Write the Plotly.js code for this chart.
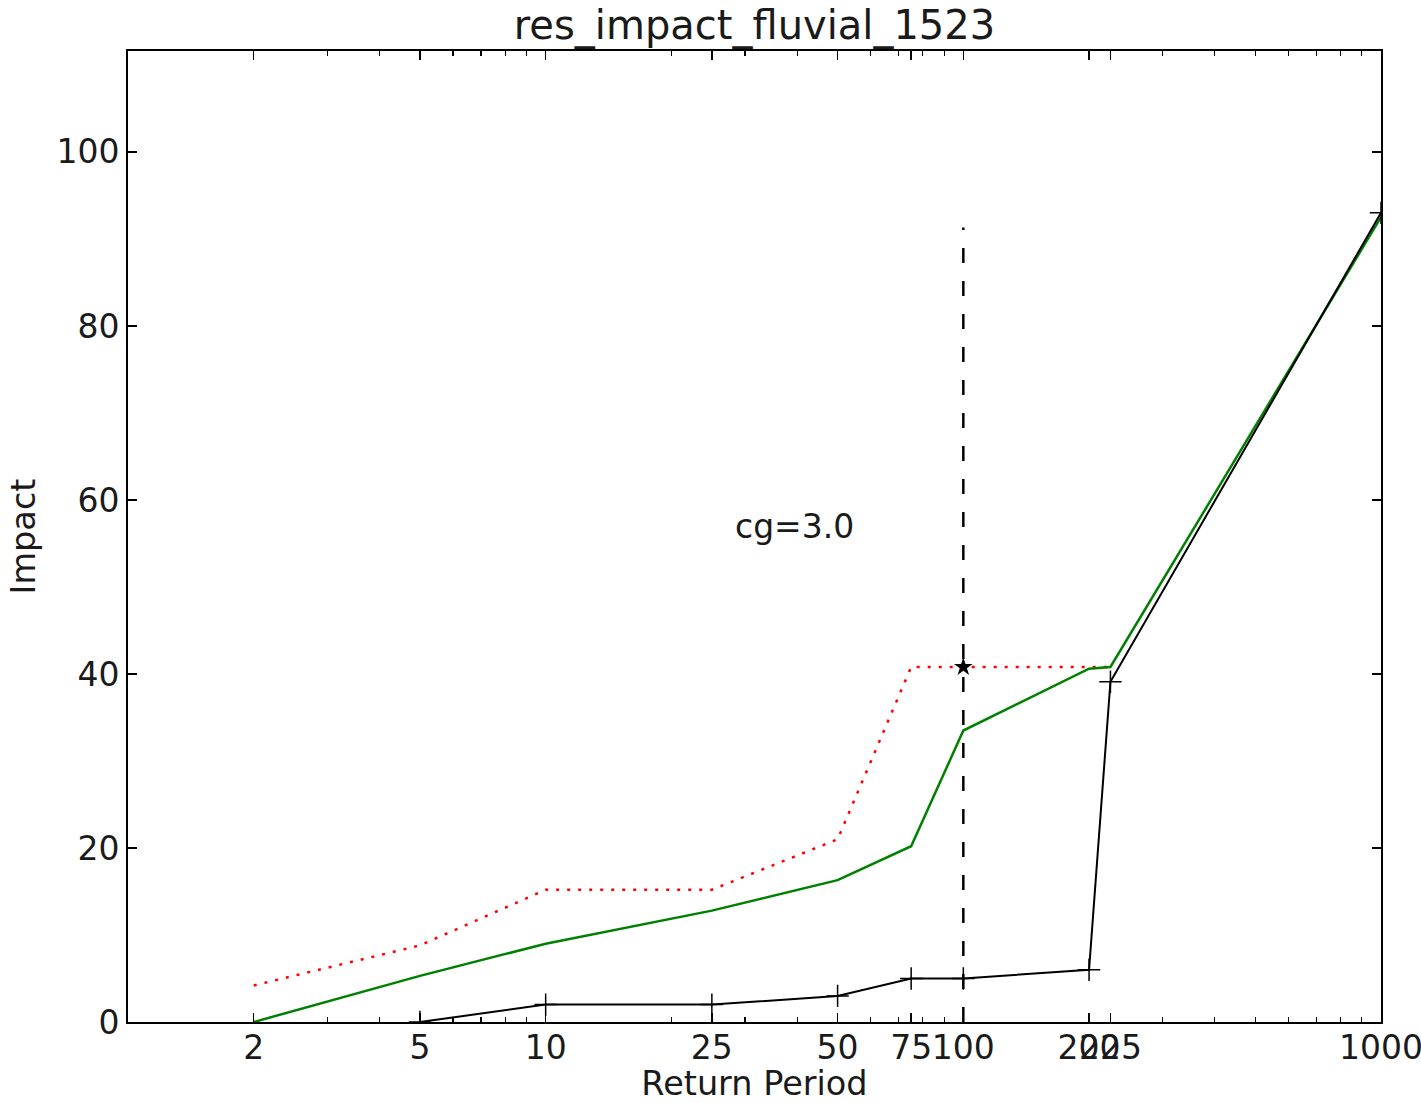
<!DOCTYPE html>
<html>
<head>
<meta charset="utf-8">
<script src="https://cdn.plot.ly/plotly-3.0.1.min.js"></script>
<style>html,body{margin:0;padding:0;background:#fff;}#chart{width:1421px;height:1103px;}</style>
</head>
<body>
<div id="chart"></div>
<script>
// ---- data ----
const returnPeriods = [2, 5, 10, 25, 50, 75, 100, 200, 225, 1000];
const tickLabels = ["2", "5", "10", "25", "50", "75", "100", "200", "225", "1000"];
const blackPeriods = [5, 10, 25, 50, 75, 100, 200, 225, 1000];
const impactBlack = [0, 2, 2, 3, 5, 5, 6, 39.1, 93.0];
const impactGreen = [0, 5.3, 9.0, 12.8, 16.3, 20.2, 33.5, 40.6, 40.8, 92.5];
const redPeriods = [2, 5, 10, 25, 50, 75, 100, 200, 225];
const impactRed = [4.2, 8.8, 15.2, 15.2, 21.0, 40.8, 40.8, 40.8, 40.8];
const starPoint = {x: [100], y: [40.8]};
const vlineX = [100, 100];
const vlineY = [0, 91.3];
const minorTicks = [3,4,6,7,8,9,20,30,40,60,70,80,90,300,400,500,600,700,800,900];
const yTicks = [0, 20, 40, 60, 80, 100];
const cgText = "cg=3.0";
const cgPos = {x: 39.5, y: 56.9};
const yMax = 111.6;

const font = "DejaVu Sans, Liberation Sans, sans-serif";

const traces = [
  {x: redPeriods, y: impactRed, mode: 'lines', line: {color: '#ff0000', width: 2.5, dash: '3px,8px'}},
  {x: returnPeriods, y: impactGreen, mode: 'lines', line: {color: '#008000', width: 2.5}},
  {x: blackPeriods, y: impactBlack, mode: 'lines+markers', line: {color: '#000000', width: 2},
   marker: {symbol: 'cross-thin-open', size: 16, line: {color: '#000000', width: 1.5}}},
  {x: vlineX, y: vlineY, mode: 'lines', line: {color: '#000000', width: 2.5, dash: '15px,18px'}},
  {x: starPoint.x, y: starPoint.y, mode: 'markers', marker: {symbol: 'star', size: 14, color: '#000000'}},
  {x: minorTicks, y: minorTicks.map(() => null), xaxis: 'x2', mode: 'markers', showlegend: false}
];

const xRange = [0, 3];
const layout = {
  width: 1421, height: 1103,
  margin: {l: 128, r: 40, t: 51, b: 81},
  paper_bgcolor: '#ffffff', plot_bgcolor: '#ffffff',
  showlegend: false,
  font: {family: font, color: '#1a1a1a', size: 33},
  title: {text: 'res_impact_fluvial_1523', font: {family: font, size: 40, color: '#1a1a1a'},
          x: 0.5, xref: 'paper', y: 1 - 25/1103, yref: 'container', yanchor: 'middle'},
  xaxis: {
    type: 'log', range: xRange, tickmode: 'array', tickvals: returnPeriods, ticktext: tickLabels,
    ticks: 'inside', ticklen: 9, tickwidth: 1.5, tickcolor: '#000', tickangle: 0,
    ticklabeloverflow: 'allow', ticklabelstandoff: -5,
    showline: true, linecolor: '#000', linewidth: 2, mirror: 'ticks',
    showgrid: false, zeroline: false, tickfont: {size: 33, family: font, color: '#1a1a1a'},
    title: {text: 'Return Period', font: {size: 33.5, family: font, color: '#1a1a1a'}, standoff: 2},
    automargin: false
  },
  xaxis2: {
    type: 'log', range: xRange, overlaying: 'x', anchor: 'y', side: 'bottom',
    tickmode: 'array', tickvals: minorTicks, showticklabels: false,
    ticks: 'inside', ticklen: 5, tickwidth: 1.2, tickcolor: '#000',
    showline: false, mirror: 'ticks', showgrid: false, zeroline: false
  },
  yaxis: {
    range: [0, yMax], tickmode: 'array', tickvals: yTicks,
    ticks: 'inside', ticklen: 9, tickwidth: 1.5, tickcolor: '#000',
    ticklabeloverflow: 'allow',
    showline: true, linecolor: '#000', linewidth: 2, mirror: 'ticks',
    showgrid: false, zeroline: false, tickfont: {size: 33, family: font, color: '#1a1a1a'},
    title: {text: 'Impact', font: {size: 33.5, family: font, color: '#1a1a1a'}, standoff: 11},
    automargin: false
  },
  annotations: [{
    x: Math.log10(cgPos.x), y: cgPos.y, xref: 'x', yref: 'y', text: cgText, showarrow: false,
    font: {size: 33, family: font, color: '#1a1a1a'}, xanchor: 'center', yanchor: 'middle'
  }]
};

Plotly.newPlot('chart', traces, layout, {displayModeBar: false, staticPlot: true});
</script>
</body>
</html>
